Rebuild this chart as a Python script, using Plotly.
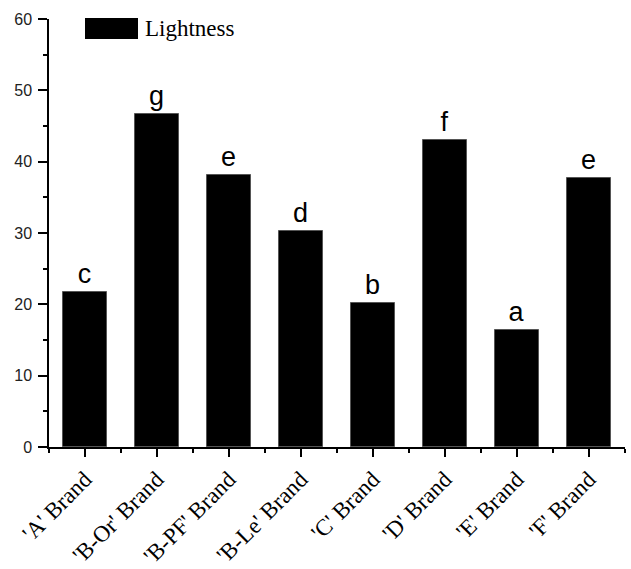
import plotly.graph_objects as go

# Lightness by brand, with significance-group letters
brands = ["'A' Brand", "'B-Or' Brand", "'B-PF' Brand", "'B-Le' Brand",
          "'C' Brand", "'D' Brand", "'E' Brand", "'F' Brand"]
lightness = [21.7, 46.7, 38.2, 30.3, 20.2, 43.1, 16.4, 37.7]
groups = ["c", "g", "e", "d", "b", "f", "a", "e"]
y_ticks = [0, 10, 20, 30, 40, 50, 60]

positions = list(range(len(brands)))

fig = go.Figure()
fig.add_trace(go.Bar(
    x=positions,
    y=lightness,
    width=0.62,
    marker=dict(color="black", line=dict(color="#555", width=1)),
    text=groups,
    textposition="outside",
    textfont=dict(family="Liberation Sans, Arial", size=27, color="black"),
    cliponaxis=False,
    name="Lightness",
    showlegend=False,
))

fig.update_layout(
    width=631, height=569,
    margin=dict(l=49, r=6, t=19, b=122),
    plot_bgcolor="white", paper_bgcolor="white",
    bargap=0,
    uniformtext=dict(minsize=27, mode="show"),
    xaxis=dict(
        range=[-0.5, len(brands) - 0.5],
        tickvals=positions, ticktext=brands,
        tickangle=-45,
        automargin=False,
        tickfont=dict(family="Liberation Serif, Times New Roman", size=23, color="black"),
        showline=True, linecolor="black", linewidth=1.5,
        ticks="outside", ticklen=8, tickwidth=1.5, tickcolor="black",
        ticklabelstandoff=0,
        minor=dict(tick0=0.5, dtick=1, ticks="outside", ticklen=4, tickwidth=1.5, tickcolor="black"),
        showgrid=False, zeroline=False,
    ),
    yaxis=dict(
        range=[0, 60],
        tickvals=y_ticks,
        automargin=False,
        tickfont=dict(family="Liberation Sans, Arial", size=16, color="#222"),
        showline=True, linecolor="black", linewidth=1.5,
        ticks="outside", ticklen=9, tickwidth=1.5, tickcolor="black",
        ticklabelstandoff=3,
        minor=dict(dtick=5, ticks="outside", ticklen=4, tickwidth=1.5, tickcolor="black"),
        showgrid=False, zeroline=False,
    ),
    font=dict(family="Liberation Sans, Arial", color="black"),
)

# Legend: swatch + label
fig.add_shape(type="rect", xref="paper", yref="paper",
              x0=36 / 576, x1=89 / 576, y0=1 - 20 / 428, y1=1 + 1 / 428,
              fillcolor="black", line=dict(width=0))
fig.add_annotation(xref="paper", yref="paper", x=94 / 576, y=1 - 9.5 / 428,
                   text="Lightness", showarrow=False, xanchor="left", yanchor="middle",
                   font=dict(family="Liberation Serif, Times New Roman", size=23, color="black"))

fig.write_html("out.html")
